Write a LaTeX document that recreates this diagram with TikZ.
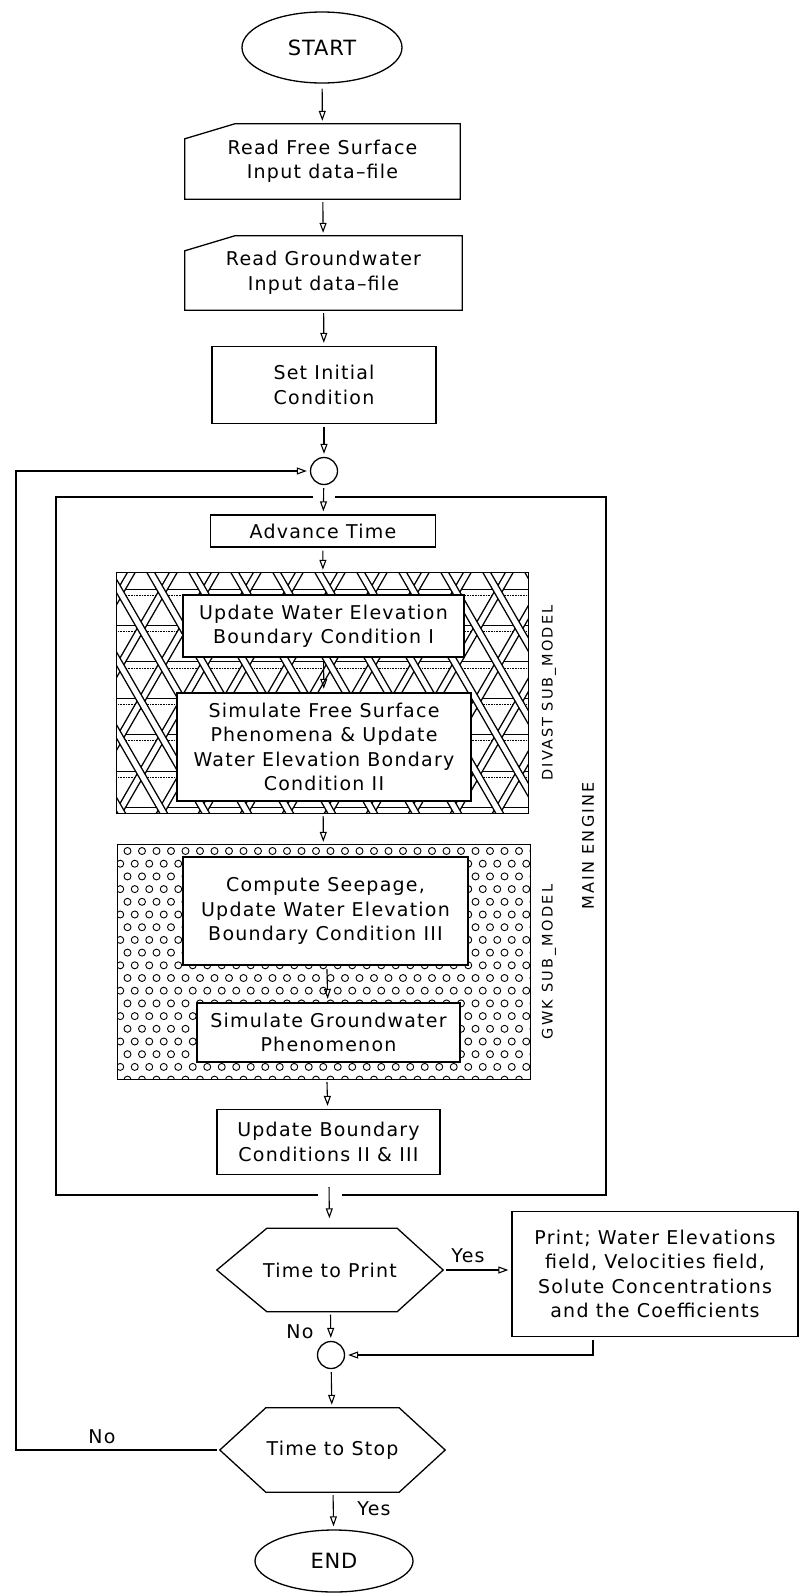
\documentclass[tikz,border=0pt]{standalone}
\usepackage{fontspec}
\setmainfont{DejaVu Sans}[LetterSpace=6.5]
\usetikzlibrary{arrows.meta,shapes.geometric,calc}

\tikzset{
  txt/.style={font=\fontsize{19}{24.5}\selectfont, align=center, inner sep=0pt},
  procbox/.style={txt, draw, line width=1.3pt},
  subbox/.style={txt, draw, line width=2.4pt, fill=white},
  ghost/.style={txt, draw=none},
  procline/.style={line width=1.3pt, line join=miter},
  frameline/.style={line width=1.3pt},
  flow/.style={line width=1.1pt, -{Triangle[open,length=10pt,width=7pt,line width=1.1pt]}, shorten >=3pt, shorten <=3pt},
  joint/.style={circle, draw, line width=1.3pt, minimum size=27pt, inner sep=0pt},
  term/.style={font=\fontsize{21}{24}\selectfont\addfontfeatures{LetterSpace=4}, inner sep=0pt, ellipse, draw, line width=1.3pt},
  sidelabel/.style={rotate=90, inner sep=0pt},
  edgelabel/.style={font=\fontsize{19}{22}\selectfont, inner sep=0pt},
  band/.style={line width=8pt},
  bandin/.style={line width=5.2pt, white},
  hdots/.style={line width=0.6pt, densely dotted},
  hsolid/.style={line width=0.7pt},
  pore/.style={line width=0.9pt},
}

\begin{document}
\begin{tikzpicture}[x=1pt,y=-1pt]
\useasboundingbox (0,0) rectangle (799,1593);

% ---------- top part ----------
\node[term, minimum width=160pt, minimum height=71pt] (start) at (322,47.5) {START};

\node[ghost, minimum width=275pt, minimum height=75pt] (card1) at (322.5,161.5) {Read Free Surface\\Input data–file};
\draw[procline] (card1.south west) -- ([yshift=-15pt]card1.north west) -- ([xshift=50pt]card1.north west) -- (card1.north east) -- (card1.south east) -- cycle;

\node[ghost, minimum width=277pt, minimum height=74pt] (card2) at (323.5,273) {Read Groundwater\\Input data–file};
\draw[procline] (card2.south west) -- ([yshift=-15pt]card2.north west) -- ([xshift=50pt]card2.north west) -- (card2.north east) -- (card2.south east) -- cycle;

\node[procbox, minimum width=224pt, minimum height=77pt] (setinit) at (324,385) {Set Initial\\Condition};

\node[joint] (circ1) at (324,471) {};

\node[procbox, minimum width=225pt, minimum height=32pt] (advance) at (323,531) {Advance Time};

% ---------- DIVAST sub-model ----------
\node[ghost, minimum width=411pt, minimum height=240pt] (divast) at (322.5,693) {};
\begin{scope}
  \clip (divast.north west) rectangle (divast.south east);
  \foreach \n in {0,...,6} {
    \pgfmathsetmacro\hy{592+\n*36.4}
    \draw[hsolid] (110,\hy-3) -- (535,\hy-3);
    \draw[hdots] (110,\hy+3) -- (535,\hy+3);
  }
  \foreach \k in {-5,...,12} {
    \pgfmathsetmacro\xk{162+\k*42}
    \draw[band] (\xk+18.5,560) -- (\xk-137.4,830);
    \draw[bandin] (\xk+18.5,560) -- (\xk-137.4,830);
  }
  \foreach \k in {-5,...,12} {
    \pgfmathsetmacro\xk{162+\k*42}
    \draw[band] (\xk-18.5,560) -- (\xk+137.4,830);
    \draw[bandin] (\xk-18.5,560) -- (\xk+137.4,830);
  }
\end{scope}
\draw[line width=1pt] (divast.north west) rectangle (divast.south east);

\node[subbox, minimum width=281pt, minimum height=62pt] (updwe) at (323.5,626) {Update Water Elevation\\Boundary Condition I};
\node[subbox, minimum width=294pt, minimum height=108pt] (simfs) at (324,747) {Simulate Free Surface\\Phenomena \& Update\\Water Elevation Bondary\\Condition II};

% ---------- GWK sub-model ----------
\node[ghost, minimum width=412pt, minimum height=234pt] (gwk) at (324,962) {};
\begin{scope}
  \clip (gwk.north west) rectangle (gwk.south east);
  \foreach \r in {0,...,18} {
    \foreach \c in {0,...,29} {
      \pgfmathsetmacro\cx{113+\c*14.5+mod(\r,2)*7.25}
      \pgfmathsetmacro\cy{851+\r*12.7}
      \draw[pore] (\cx,\cy) circle[radius=3.5pt];
    }
  }
\end{scope}
\draw[line width=1pt] (gwk.north west) rectangle (gwk.south east);

\node[subbox, minimum width=285pt, minimum height=108pt] (compute) at (325.5,911) {Compute Seepage,\\Update Water Elevation\\Boundary Condition III};
\node[subbox, minimum width=263pt, minimum height=59pt] (simgw) at (328.5,1032.5) {Simulate Groundwater\\Phenomenon};

\node[procbox, minimum width=223pt, minimum height=65pt] (updbc) at (328.5,1142) {Update Boundary\\Conditions II \& III};

% side labels
\node[sidelabel, font=\fontsize{14.5}{16}\selectfont\addfontfeatures{LetterSpace=14}] (lbldiv) at (549,693) {DIVAST SUB\_MODEL};
\node[sidelabel, font=\fontsize{14.5}{16}\selectfont\addfontfeatures{LetterSpace=16}] (lblgwk) at (549,962) {GWK SUB\_MODEL};
\node[sidelabel, font=\fontsize{16}{18}\selectfont\addfontfeatures{LetterSpace=14}] (lblmain) at (588,846) {MAIN ENGINE};

% main engine frame (with gaps for the flow)
\draw[frameline] (313,497) -- (56,497) -- (56,1195) -- (318,1195);
\draw[frameline] (335,497) -- (606,497) -- (606,1195) -- (342,1195);
\coordinate (mbot) at (329,1184);

% ---------- decisions ----------
\node[ghost, minimum width=226pt, minimum height=83pt] (tp) at (330,1270) {Time to Print};
\draw[procline] (tp.west) -- ([xshift=50pt]tp.north west) -- ([xshift=-46pt]tp.north east) -- (tp.east) -- ([xshift=-46pt]tp.south east) -- ([xshift=50pt]tp.south west) -- cycle;

\node[procbox, minimum width=286pt, minimum height=125pt] (print) at (655,1274) {Print; Water Elevations\\field, Velocities field,\\Solute Concentrations\\and the Coefficients};

\node[joint] (circ2) at (331,1355) {};

\node[ghost, minimum width=225pt, minimum height=84pt] (ts) at (332.5,1450) {Time to Stop};
\draw[procline] (ts.west) -- ([xshift=46pt]ts.north west) -- ([xshift=-46pt]ts.north east) -- (ts.east) -- ([xshift=-46pt]ts.south east) -- ([xshift=46pt]ts.south west) -- cycle;

\node[term, minimum width=158pt, minimum height=62pt] (end) at (334,1561) {END};

% ---------- connectors ----------
\draw[flow, shorten <=5pt] (start) -- (card1);
\draw[flow] (card1) -- (card2);
\draw[flow] (card2) -- (setinit);
\draw[flow] (setinit) -- (circ1);
\draw[flow] (circ1) -- (advance);
\draw[flow] (advance) -- (divast);
\draw[flow] (updwe) -- (simfs);
\draw[flow] (divast) -- (gwk);
\draw[flow] (compute) -- (simgw);
\draw[flow] (gwk) -- (updbc);
\draw[flow, shorten >=10pt] (mbot) -- (tp);
\draw[flow] (tp.east) -- (tp.east -| print.west);
\draw[flow] (tp) -- (circ2);
\draw[flow] ([xshift=-62pt]print.south) |- (circ2.east);
\draw[flow] (circ2) -- (ts);
\draw[flow] (ts) -- (end);
\coordinate (loopb) at (16,1450);
\coordinate (loopt) at (16,471);
\draw[flow] (ts.west) -- (loopb) -- (loopt) -- (circ1.west);

% ---------- edge labels ----------
\node[edgelabel] (yes1) at (468,1256) {Yes};
\node[edgelabel] (no1) at (300,1332) {No};
\node[edgelabel] (yes2) at (374,1509) {Yes};
\node[edgelabel] (no2) at (102,1437) {No};

\end{tikzpicture}
\end{document}
